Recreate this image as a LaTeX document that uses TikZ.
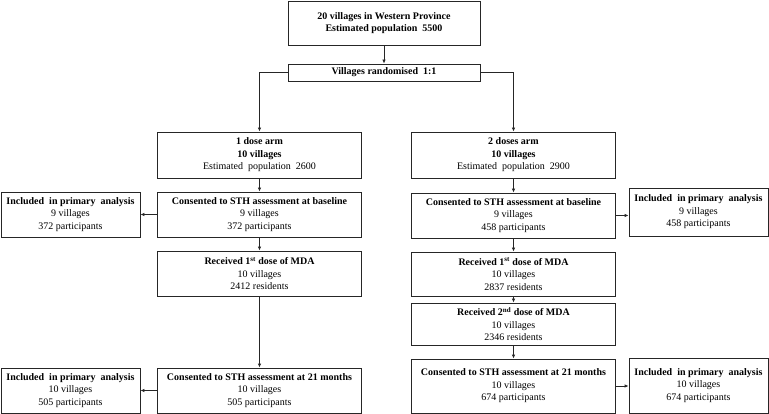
\documentclass[tikz,border=0pt]{standalone}
\usepackage{fontspec}
\setmainfont{Liberation Serif}
\usetikzlibrary{arrows.meta}
\tikzset{
  box/.style={draw=black!85, line width=0.8pt, align=center, inner sep=1pt,
    font=\fontsize{10}{12.5}\selectfont},
  armbox/.style={box, minimum width=204pt},
  sidebox/.style={box, minimum width=139pt},
  link/.style={draw=black!85, line width=0.8pt, -{Latex[length=4pt,width=3.5pt]}}
}
\begin{document}
\begin{tikzpicture}[x=1pt,y=-1pt]
\useasboundingbox (0,0) rectangle (769,414);
% top of the flow
\node[box, minimum width=192pt, minimum height=44pt] (villages) at (384,23)
  {\textbf{20 villages in Western Province}\\\textbf{Estimated population~~5500}};
\node[box, minimum width=192pt, minimum height=17pt] (rand) at (384,72.5)
  {\textbf{Villages randomised~~1:1}};
% 1 dose arm
\node[armbox, minimum height=46pt] (arm1) at (259.5,155)
  {\textbf{1 dose arm}\\\textbf{10 villages}\\Estimated~~population~~2600};
\node[armbox, minimum height=45pt] (cons1) at (259.5,214.5)
  {\textbf{Consented to STH assessment at baseline}\\9 villages\\372 participants};
\node[sidebox, minimum height=45pt] (inc1) at (70.5,214.5)
  {\textbf{Included~~in primary~~analysis}\\9 villages\\372 participants};
\node[armbox, minimum height=45pt] (rec1) at (259.5,273.5)
  {\textbf{Received 1\textsuperscript{st} dose of MDA}\\10 villages\\2412 residents};
\node[armbox, minimum height=45pt] (cons21a) at (259.5,390.5)
  {\textbf{Consented to STH assessment at 21 months}\\10 villages\\505 participants};
\node[sidebox, minimum height=45pt] (inc21a) at (70.5,390.5)
  {\textbf{Included~~in primary~~analysis}\\10 villages\\505 participants};
% 2 doses arm
\node[armbox, minimum height=46pt] (arm2) at (513.5,155)
  {\textbf{2 doses arm}\\\textbf{10 villages}\\Estimated~~population~~2900};
\node[armbox, minimum height=45pt] (cons2) at (513.5,215.5)
  {\textbf{Consented to STH assessment at baseline}\\9 villages\\458 participants};
\node[sidebox, minimum height=48pt] (inc2) at (698.5,212)
  {\textbf{Included~~in primary~~analysis}\\9 villages\\458 participants};
\node[armbox, minimum height=44pt] (rec2a) at (513.5,274)
  {\textbf{Received 1\textsuperscript{st} dose of MDA}\\10 villages\\2837 residents};
\node[armbox, minimum height=42pt] (rec2b) at (513.5,324)
  {\textbf{Received 2\textsuperscript{nd} dose of MDA}\\10 villages\\2346 residents};
\node[armbox, minimum height=54pt] (cons21b) at (513.5,386)
  {\textbf{Consented to STH assessment at 21 months}\\10 villages\\674 participants};
\node[sidebox, minimum height=55pt] (inc21b) at (698.5,385.5)
  {\textbf{Included~~in primary~~analysis}\\10 villages\\674 participants};
% connectors
\draw[link] (villages) -- (rand);
\draw[link] (rand.west) -| (arm1.north);
\draw[link] (rand.east) -| (arm2.north);
\draw[link] (arm1) -- (cons1);
\draw[link] (cons1) -- (inc1);
\draw[link] (cons1) -- (rec1);
\draw[link] (rec1) -- (cons21a);
\draw[link] (cons21a) -- (inc21a);
\draw[link] (arm2) -- (cons2);
\draw[link] (cons2.east) -- (cons2.east -| inc2.west);
\draw[link] (cons2) -- (rec2a);
\draw[link] (rec2a) -- (rec2b);
\draw[link] (rec2b) -- (cons21b);
\draw[link] (cons21b.east) -- (cons21b.east -| inc21b.west);
\end{tikzpicture}
\end{document}
